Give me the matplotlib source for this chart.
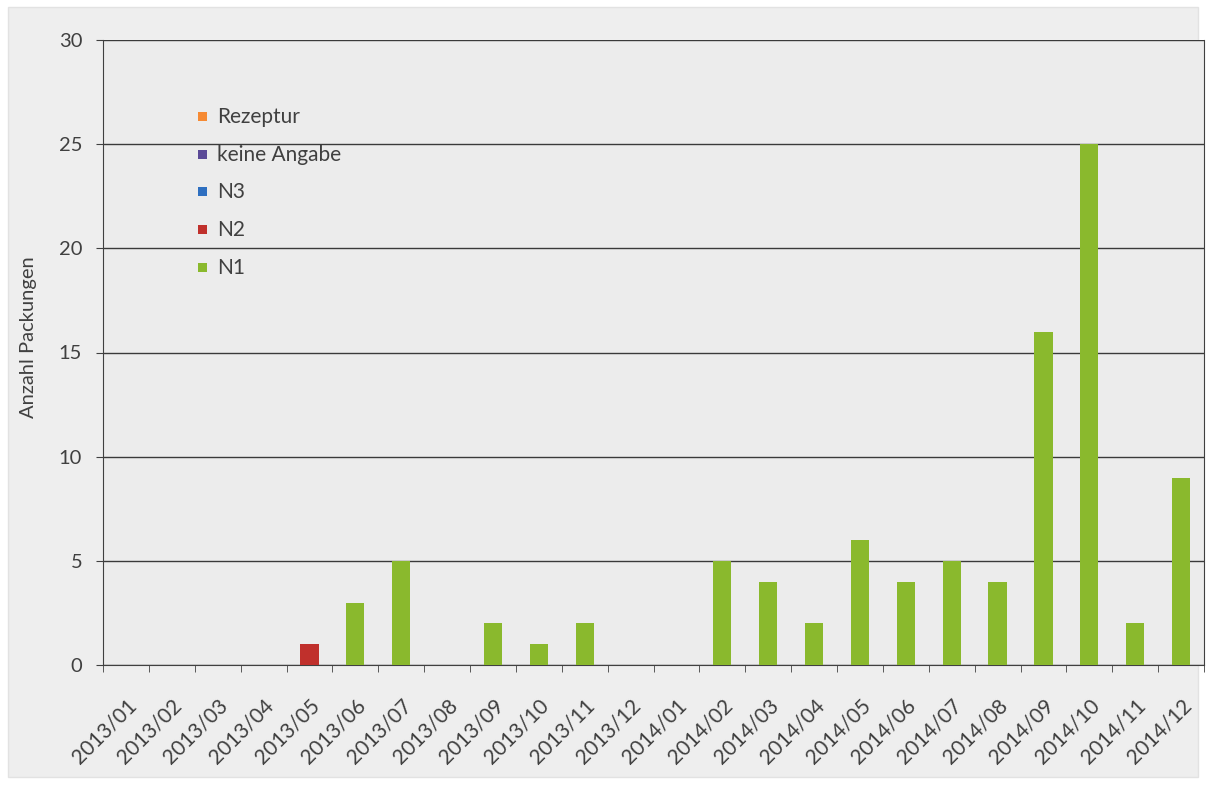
import matplotlib
matplotlib.use("Agg")
import matplotlib.pyplot as plt
import numpy as np
from matplotlib.patches import Rectangle
import matplotlib.transforms as mtransforms

months = ["2013/01", "2013/02", "2013/03", "2013/04", "2013/05", "2013/06", "2013/07", "2013/08",
          "2013/09", "2013/10", "2013/11", "2013/12", "2014/01", "2014/02", "2014/03", "2014/04",
          "2014/05", "2014/06", "2014/07", "2014/08", "2014/09", "2014/10", "2014/11", "2014/12"]
n1 = [0, 0, 0, 0, 0, 3, 5, 0, 2, 1, 2, 0, 0, 5, 4, 2, 6, 4, 5, 4, 16, 25, 2, 9]
n2 = [0, 0, 0, 0, 1, 0, 0, 0, 0, 0, 0, 0, 0, 0, 0, 0, 0, 0, 0, 0, 0, 0, 0, 0]
n3 = [0] * 24
keine = [0] * 24
rezeptur = [0] * 24

plt.rcParams['font.family'] = ['Lato', 'DejaVu Sans']
txt = '#404040'

fig = plt.figure(figsize=(12.08, 7.87), dpi=100, facecolor='white')
fig.patches.append(Rectangle((8/1208, 10/787), 1190/1208, 770/787, transform=fig.transFigure,
                             facecolor='#eeeeee', edgecolor='#e2e2e2', lw=1, zorder=-1))
ax = fig.add_axes([103/1208, 1-665/787, (1204-103)/1208, (665-40)/787])
ax.set_facecolor('#ececec')

x = np.arange(len(months))
w = 0.4
bottom = np.zeros(len(months))
series = [("N1", n1, '#8ab92d'), ("N2", n2, '#c0302c'), ("N3", n3, '#2e6fc0'),
          ("keine Angabe", keine, '#5b4a97'), ("Rezeptur", rezeptur, '#f68a33')]
for name, vals, col in series:
    v = np.array(vals, dtype=float)
    ax.bar(x, v, w, bottom=bottom, color=col, edgecolor='none', zorder=3)
    bottom += v

ax.set_xlim(-0.5, len(months) - 0.5)
ax.set_ylim(0, 30)
ax.set_yticks(np.arange(0, 31, 5))
ax.yaxis.grid(True, color='#3a3a3a', lw=1.0, zorder=1)
ax.set_axisbelow(True)
ax.set_xticks(x)
ax.set_xticklabels(months, rotation=45, ha='right', va='top', rotation_mode='anchor',
                   fontsize=15, color=txt)
off = mtransforms.ScaledTranslation(8/72, 0, fig.dpi_scale_trans)
for lbl in ax.get_xticklabels():
    lbl.set_transform(lbl.get_transform() + off)
ax.set_xticks(np.arange(-0.5, len(months), 1), minor=True)
ax.tick_params(axis='x', which='major', length=0, pad=22)
ax.tick_params(axis='x', which='minor', length=5, color='#404040', direction='out')
ax.tick_params(axis='y', length=5, color='#404040', labelsize=14.5, labelcolor=txt, pad=10)
ax.spines['top'].set_visible(False)
for s in ['left', 'right', 'bottom']:
    ax.spines[s].set_color('#404040')
ax.set_ylabel("Anzahl Packungen", fontsize=14.5, color=txt)
ax.yaxis.set_label_coords(-0.06, 0.525)

# legend
leg_items = [("Rezeptur", '#f68a33'), ("keine Angabe", '#5b4a97'), ("N3", '#2e6fc0'),
             ("N2", '#c0302c'), ("N1", '#8ab92d')]
ys = [117, 155, 192, 230, 268]
for (lab, col), yp in zip(leg_items, ys):
    fig.patches.append(Rectangle((198/1208, 1-(yp+4)/787), 9/1208, 9/787, transform=fig.transFigure,
                                 facecolor=col, edgecolor='none', zorder=5))
    fig.text(217/1208, 1-yp/787, lab, fontsize=15, color=txt, va='center', ha='left')

fig.savefig("out.png", dpi=100, facecolor='white')
